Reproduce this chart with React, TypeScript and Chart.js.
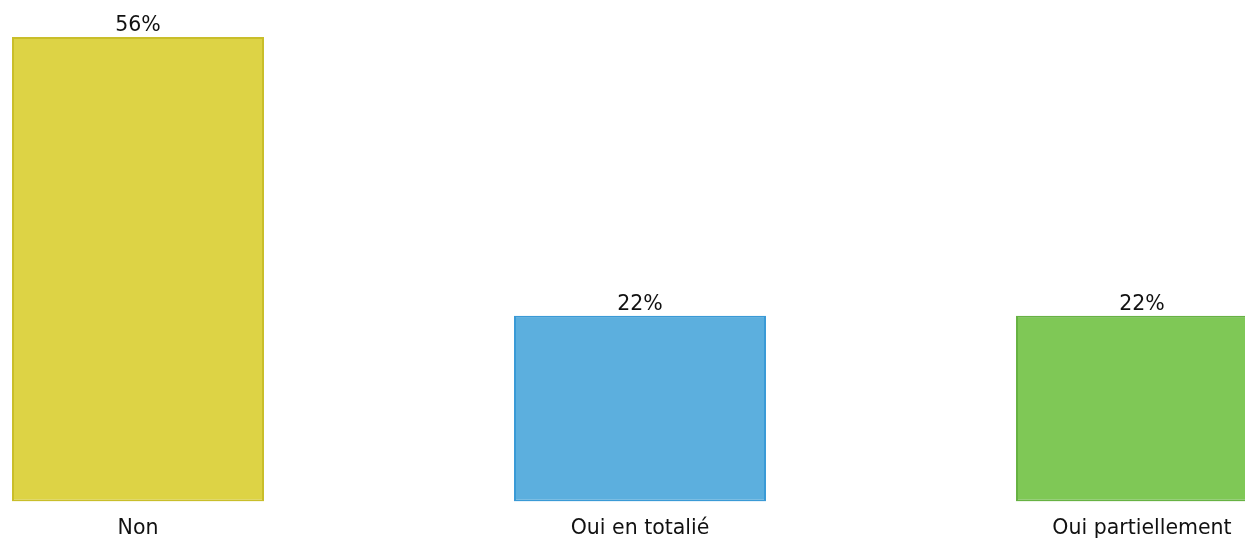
import React, { useEffect, useRef } from "react";
import { Chart, registerables } from "chart.js";

Chart.register(...registerables);

const categories = ["Non", "Oui en totalié", "Oui partiellement"];
const values = [55.56, 22.22, 22.22];
const valueLabels = ["56%", "22%", "22%"];
const fillColors = ["#DDD345", "#5CAFDE", "#7FC856"];
const borderColors = ["#C9BE2A", "#3A9AD6", "#67B243"];

const FONT = "'DejaVu Sans', Verdana, sans-serif";

const valueLabelPlugin = {
  id: "valueLabels",
  afterDatasetsDraw(chart: any) {
    const ctx = chart.ctx;
    const meta = chart.getDatasetMeta(0);
    ctx.save();
    ctx.font = `20.5px ${FONT}`;
    ctx.fillStyle = "#111111";
    ctx.textAlign = "center";
    ctx.textBaseline = "alphabetic";
    meta.data.forEach((bar: any, i: number) => {
      ctx.fillText(valueLabels[i], bar.x, bar.y - 6);
    });
    ctx.restore();
  },
};

export default function App() {
  const ref = useRef<HTMLCanvasElement>(null);
  useEffect(() => {
    if (!ref.current) return;
    const chart = new Chart(ref.current, {
      type: "bar",
      data: {
        labels: categories,
        datasets: [
          {
            data: values,
            backgroundColor: fillColors,
            borderColor: borderColors,
            borderWidth: 2,
            borderSkipped: false,
            barPercentage: 0.502,
            categoryPercentage: 1,
          },
        ],
      },
      options: {
        animation: false,
        responsive: true,
        maintainAspectRatio: false,
        layout: { padding: { top: 37, bottom: 0, left: 0, right: 0 } },
        plugins: {
          legend: { display: false },
          tooltip: { enabled: false },
        },
        scales: {
          x: {
            grid: { display: false, drawTicks: false },
            border: { display: false },
            ticks: {
              color: "#111111",
              font: { family: FONT, size: 20.5 },
              padding: 15,
              maxRotation: 0,
            },
          },
          y: {
            display: false,
            min: 0,
            max: 55.56,
          },
        },
      },
      plugins: [valueLabelPlugin],
    });
    return () => chart.destroy();
  }, []);

  return (
    <div
      style={{
        position: "fixed",
        left: 0,
        top: 0,
        width: "100vw",
        height: "100vh",
        overflow: "hidden",
        background: "#ffffff",
      }}
    >
      <div
        style={{
          position: "absolute",
          left: -113,
          top: 0,
          width: 1506,
          height: 556,
        }}
      >
        <canvas ref={ref} />
      </div>
    </div>
  );
}
